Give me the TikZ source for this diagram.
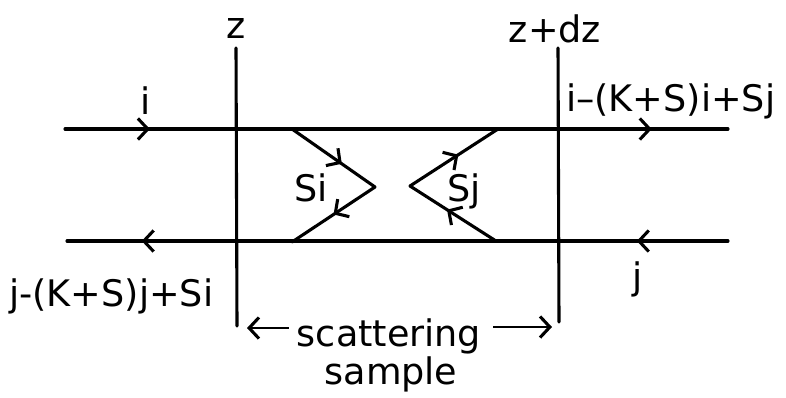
\documentclass[tikz,border=0pt]{standalone}
\usepackage{fontspec}
\setmainfont{DejaVu Sans}
\usetikzlibrary{arrows.meta,decorations.markings}
\tikzset{
  beam/.style={line width=2.2pt, line cap=round},
  lbl/.style={font=\fontsize{26}{30}\selectfont, inner sep=0pt},
  barb/.tip={Straight Barb[length=7pt,width=15pt,line width=2.2pt]},
  onearrow/.style={postaction={decorate}, decoration={markings,
      mark=at position #1 with {\arrow{barb}}}},
  twoarrows/.style 2 args={postaction={decorate}, decoration={markings,
      mark=at position #1 with {\arrow{barb}},
      mark=at position #2 with {\arrow{barb}}}},
}
\begin{document}
\begin{tikzpicture}[x=0.025cm, y=-0.025cm]
  \useasboundingbox (0,0) rectangle (786,397);
  % Sample faces
  \coordinate (ztop) at (236,48);  \coordinate (zbot) at (237,326);
  \coordinate (dztop) at (558,48); \coordinate (dzbot) at (559,322);
  \draw[beam] (ztop) -- (zbot);
  \draw[beam] (dztop) -- (dzbot);
  \node[lbl, anchor=base] (zlab) at (236,38) {z};
  \node[lbl, anchor=base] (dzlab) at (555,42) {z+dz};
  % Forward flux i (top)
  \coordinate (iin) at (65,129);  \coordinate (iout) at (728,129);
  \draw[beam, twoarrows={0.128}{0.885}] (iin) -- (iout);
  \node[lbl, anchor=base] (ilab) at (146,114) {i};
  \node[lbl, anchor=base west] (ioutlab) at (566,111) {i–(K+S)i+Sj};
  % Backward flux j (bottom)
  \coordinate (jin) at (728,241);  \coordinate (jout) at (67,241);
  \draw[beam, twoarrows={0.138}{0.887}] (jin) -- (jout);
  \node[lbl, anchor=base] (jlab) at (638,289) {j};
  \node[lbl, anchor=base west] (joutlab) at (9,306) {j-(K+S)j+Si};
  % Scattering of i into j
  \coordinate (sia) at (292,129); \coordinate (siv) at (375,187); \coordinate (sib) at (292,242);
  \draw[beam, onearrow=0.6] (sia) -- (siv);
  \draw[beam, onearrow=0.5] (siv) -- (sib);
  \node[lbl] (silab) at (311,188) {Si};
  % Scattering of j into i
  \coordinate (sjb) at (496,241); \coordinate (sjv) at (410,186); \coordinate (sja) at (498,129);
  \draw[beam, onearrow=0.57] (sjb) -- (sjv);
  \draw[beam, onearrow=0.55] (sjv) -- (sja);
  \node[lbl, anchor=base west] (sjlab) at (447,201) {Sj};
  % Sample thickness
  \node[lbl, anchor=base] (scat) at (389,346) {scattering};
  \node[lbl, anchor=base] (samp) at (391,384) {sample};
  \draw[line width=2pt, -{barb}] (scat.west |- 0,328) ++(-8,0) -- (247,328);
  \draw[line width=2pt, -{barb}] (scat.east |- 0,327) ++(12,0) -- (552,327);
\end{tikzpicture}
\end{document}
